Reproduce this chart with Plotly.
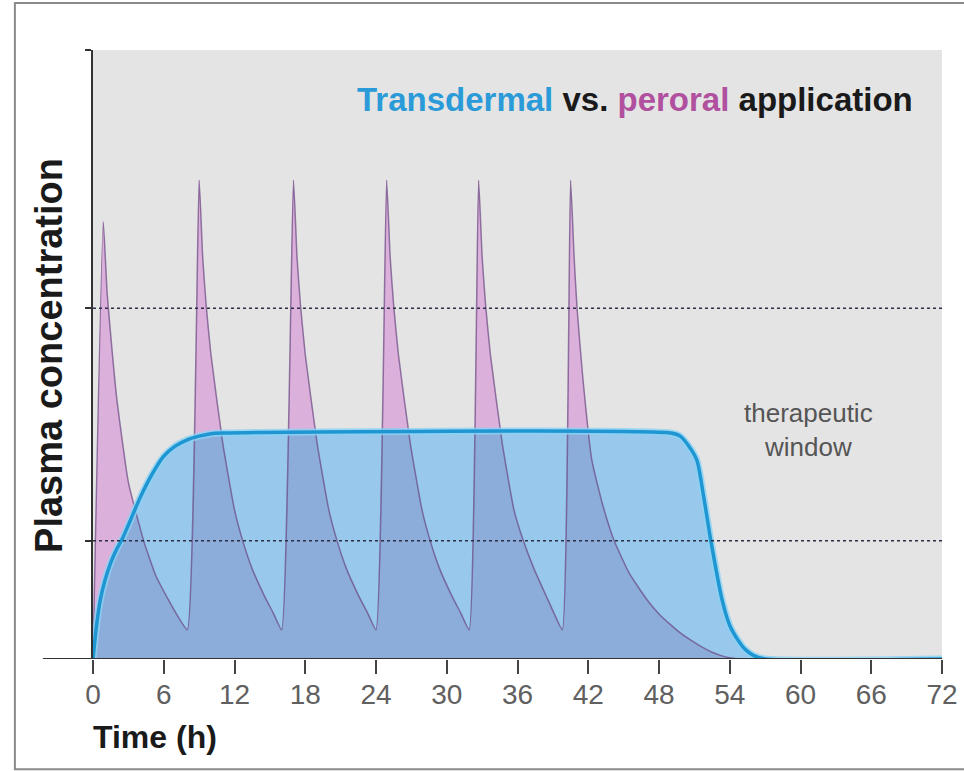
import plotly.graph_objects as go

# ---- data ----
time_ticks = [0, 6, 12, 18, 24, 30, 36, 42, 48, 54, 60, 66, 72]

t_oral = [0, 0.87, 1.2, 1.6, 2.0, 3.0, 4.3, 5.3, 6.4, 7.2, 8.0,
          9.0, 9.3, 9.6, 10.0, 11.0, 12.0, 12.7, 13.5, 14.5, 15.3, 16.0,
          17.0, 17.3, 17.6, 18.0, 19.0, 20.0, 20.7, 21.5, 22.5, 23.3, 24.0,
          24.9, 25.2, 25.5, 25.9, 26.9, 27.9, 28.6, 29.4, 30.4, 31.2, 31.9,
          32.7, 33.0, 33.3, 33.7, 34.7, 35.7, 36.5, 37.4, 38.4, 39.1, 39.8,
          40.5, 40.8, 41.05, 41.5, 42.3, 43.2, 44.2, 45.5, 47.0, 48.0, 49.0,
          50.0, 50.7, 51.7, 52.5, 53.2, 54.0, 55.0, 72.0]
c_oral = [0, 71.8, 60, 51, 43, 29, 19.4, 13.8, 9.7, 7.0, 4.8,
          78.6, 66, 58, 50, 35.5, 24.5, 19.4, 14.8, 10.5, 7.5, 4.8,
          78.6, 66, 58, 50, 35.5, 24.5, 19.4, 14.8, 10.5, 7.5, 4.8,
          78.6, 66, 58, 50, 35.5, 24.5, 19.4, 14.8, 10.5, 7.5, 4.8,
          78.6, 66, 58, 50, 35.5, 24.5, 19.4, 14.8, 10.5, 7.5, 4.8,
          78.6, 66, 57.6, 47, 32.7, 25.5, 19.4, 14.0, 9.7, 7.4, 5.6,
          4.0, 3.1, 1.9, 1.1, 0.6, 0.2, 0, 0]

t_td = [0, 0.3, 0.62, 1.0, 1.5, 2.0, 2.5, 3.0, 4.0, 5.0, 6.0, 7.0, 8.0, 9.0,
        10.0, 11.0, 49.0, 49.8, 50.4, 51.2, 51.8, 52.4, 53.35, 54.0, 54.7,
        55.3, 56.0, 57.0, 72.0]
c_td = [0, 5.5, 9.7, 12.8, 15.8, 18.0, 19.8, 22.0, 26.5, 30.3, 33.3, 35.0,
        36.0, 36.6, 37.0, 37.1, 37.1, 36.6, 35.3, 32.7, 26.5, 19.4, 9.7, 5.5,
        3.1, 1.6, 0.6, 0, 0]

window_upper = 57.6
window_lower = 19.4

PINK_SMOOTH = 0.45
BLUE_SMOOTH = 0.7

# ---- figure ----
fig = go.Figure()
fig.add_trace(go.Scatter(x=t_oral, y=c_oral, mode="lines", fill="tozeroy",
                         fillcolor="rgb(251,207,237)",
                         line=dict(width=0, shape="spline", smoothing=PINK_SMOOTH),
                         hoverinfo="skip"))
fig.add_trace(go.Scatter(x=t_td, y=c_td, mode="lines", fill="tozeroy",
                         fillcolor="rgb(152,201,236)",
                         line=dict(width=0, shape="spline", smoothing=BLUE_SMOOTH),
                         hoverinfo="skip"))
fig.add_trace(go.Scatter(x=t_oral, y=c_oral, mode="lines", fill="tozeroy",
                         fillcolor="rgba(97,61,151,0.2)",
                         line=dict(color="rgba(105,70,130,0.7)", width=1.5,
                                   shape="spline", smoothing=PINK_SMOOTH),
                         hoverinfo="skip"))
fig.add_trace(go.Scatter(x=t_td, y=c_td, mode="lines",
                         line=dict(color="rgba(140,210,245,0.8)", width=7,
                                   shape="spline", smoothing=BLUE_SMOOTH),
                         hoverinfo="skip"))
fig.add_trace(go.Scatter(x=t_td, y=c_td, mode="lines",
                         line=dict(color="#1e96d2", width=3.5,
                                   shape="spline", smoothing=BLUE_SMOOTH),
                         hoverinfo="skip"))

for yv in (window_upper, window_lower):
    fig.add_shape(type="line", xref="x", yref="y", x0=0, x1=72, y0=yv, y1=yv,
                  line=dict(color="#2b2f45", width=1.5, dash="3px,3px"))

# x axis line extending left of the y axis
fig.add_shape(type="line", xref="paper", yref="y", x0=-0.059, x1=1.0, y0=0, y1=0,
              line=dict(color="#333333", width=2))
# outer frame (left, top, bottom edges; right edge lies outside the page)
fig.add_shape(type="rect", xref="paper", yref="paper", x0=-0.092, x1=1.05,
              y0=-0.181, y1=1.077, line=dict(color="#8a8a8a", width=2))

fig.add_annotation(
    xref="paper", yref="paper", x=0.968, y=0.918, xanchor="right", yanchor="middle",
    showarrow=False,
    text="<b><span style='color:#2a9bd8'>Transdermal</span> vs. "
         "<span style='color:#b0509e'>peroral</span> application</b>",
    font=dict(family="Liberation Sans", size=33, color="#1a1a1a"))
fig.add_annotation(
    xref="x", yref="y", x=60.7, y=37.6, xanchor="center", yanchor="middle",
    showarrow=False, text="therapeutic<br>window",
    font=dict(family="Liberation Sans", size=26, color="#555555"))
fig.add_annotation(
    xref="paper", yref="paper", x=-0.002, y=-0.128, xanchor="left", yanchor="middle",
    showarrow=False, text="<b>Time (h)</b>",
    font=dict(family="Liberation Sans", size=32, color="#1a1a1a"))
fig.add_annotation(
    xref="paper", yref="paper", x=-0.052, y=0.499, xanchor="center", yanchor="middle",
    showarrow=False, text="<b>Plasma concentration</b>", textangle=-90,
    font=dict(family="Liberation Sans", size=38, color="#1a1a1a"))

fig.update_layout(
    width=964, height=771,
    margin=dict(l=93, r=22, t=50, b=112, autoexpand=False),
    paper_bgcolor="white", plot_bgcolor="#e4e4e4",
    showlegend=False, hovermode=False,
    xaxis=dict(range=[0, 72], tickvals=time_ticks, ticktext=[str(v) for v in time_ticks],
               showgrid=False, zeroline=False, showline=False, automargin=False,
               ticks="outside", ticklen=14, tickwidth=1.5, tickcolor="#444444",
               ticklabelstandoff=-4, ticklabeloverflow="allow",
               tickfont=dict(family="Liberation Sans", size=28, color="#606060")),
    yaxis=dict(range=[0, 100], showgrid=False, zeroline=False, showline=True,
               automargin=False,
               linecolor="#333333", linewidth=1.5,
               tickvals=[window_lower, window_upper, 100], showticklabels=False,
               ticks="outside", ticklen=6, tickwidth=1.5, tickcolor="#333333"),
)

fig.write_html("out.html", config={"displayModeBar": False},
               post_script="document.body.style.margin='0';"
                           "document.body.style.overflow='hidden';")
